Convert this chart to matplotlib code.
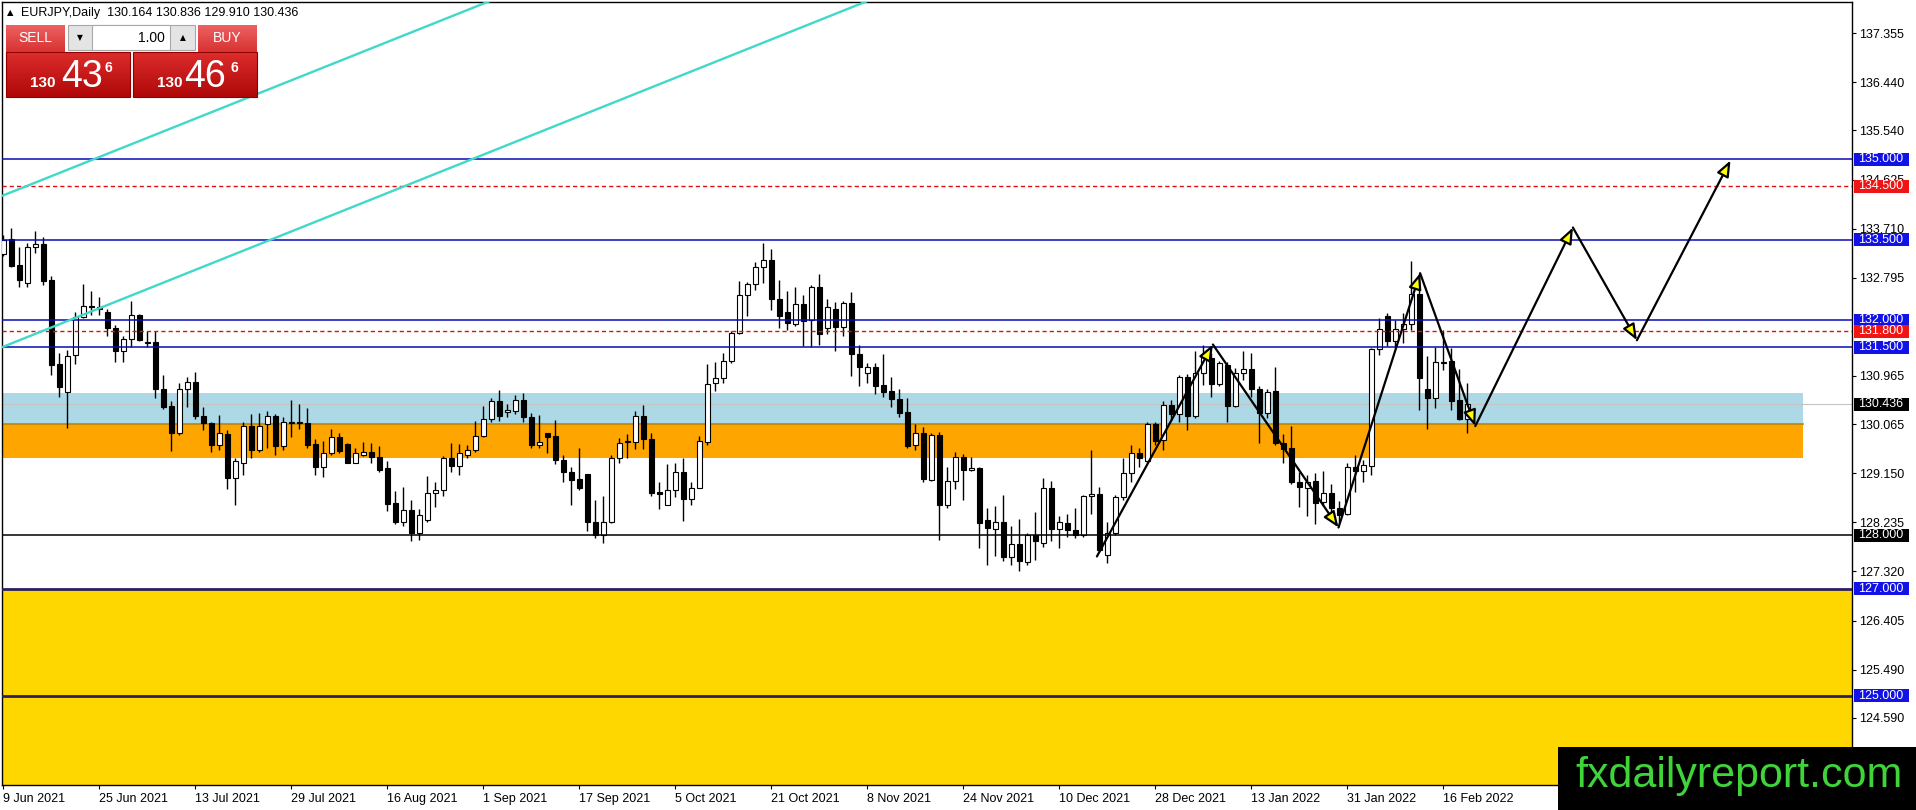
"""
EURJPY daily chart (MT4 style) with support/resistance levels,
zones, a rising channel and a projected zig-zag path.
"""
import numpy as np
import matplotlib
matplotlib.use("Agg")
import matplotlib.pyplot as plt
from matplotlib.colors import to_rgb
from matplotlib.patches import Rectangle, FancyArrowPatch

plt.rcParams["font.family"] = ["Liberation Sans", "DejaVu Sans"]

# ─── Data ─────────────────────────────────────────────────────────────────────

opens = [
    133.23, 133.51, 133.03, 132.69, 133.36, 133.42, 132.75, 131.19, 130.66, 131.35,
    132.06, 132.27, 132.24, 132.16, 131.85, 131.42, 131.66, 132.10, 131.59, 131.59,
    130.73, 130.40, 129.91, 130.72, 130.85, 130.22, 130.08, 129.68, 129.88, 129.07,
    129.35, 130.03, 129.58, 130.06, 130.22, 129.66, 130.08, 130.10, 130.08, 129.69,
    129.27, 129.52, 129.82, 129.70, 129.35, 129.50, 129.55, 129.45, 129.24, 128.59,
    128.25, 128.47, 128.04, 128.28, 128.78, 128.83, 129.43, 129.29, 129.50, 129.58,
    129.85, 130.17, 130.50, 130.29, 130.32, 130.52, 130.19, 129.67, 129.91, 129.85,
    129.40, 129.17, 129.04, 129.14, 128.24, 128.00, 128.25, 129.43, 129.73, 129.74,
    130.21, 129.78, 128.80, 128.56, 128.83, 129.18, 128.68, 128.88, 129.74, 130.83,
    130.92, 131.25, 131.76, 132.47, 132.67, 132.99, 133.12, 132.39, 132.16, 131.93,
    132.31, 132.01, 132.62, 131.86, 132.22, 131.88, 132.32, 131.37, 131.01, 131.13,
    130.80, 130.68, 130.54, 130.29, 129.67, 129.91, 129.03, 129.86, 128.56, 129.01,
    129.45, 129.21, 129.25, 128.28, 128.11, 128.24, 127.59, 127.83, 127.50, 128.00,
    127.86, 128.87, 128.11, 128.22, 128.09, 128.00, 128.72, 128.76, 127.63, 128.04,
    128.70, 129.15, 129.52, 129.37, 130.06, 129.77, 130.42, 130.25, 130.95, 130.22,
    131.01, 131.29, 130.81, 131.17, 130.41, 131.01, 131.09, 130.72, 130.28, 130.68,
    129.71, 129.62, 128.98, 128.87, 129.01, 128.62, 128.78, 128.50, 128.39, 129.26,
    129.20, 129.29, 131.46, 132.08, 131.62, 131.84, 131.93, 132.50, 130.72, 130.56,
    131.23, 131.24, 130.52, 130.164,
]
highs = [
    133.60, 133.73, 133.37, 133.44, 133.67, 133.56, 132.83, 131.40, 131.45, 132.16,
    132.67, 132.55, 132.44, 132.21, 131.91, 131.71, 132.37, 132.11, 131.81, 131.80,
    130.98, 130.49, 130.83, 130.94, 131.03, 130.39, 130.11, 130.24, 129.96, 129.43,
    130.10, 130.25, 130.28, 130.31, 130.25, 130.19, 130.52, 130.45, 130.36, 129.79,
    129.76, 129.97, 129.91, 129.71, 129.63, 129.74, 129.72, 129.66, 129.38, 128.82,
    128.89, 128.65, 128.49, 129.10, 128.98, 129.48, 129.71, 129.69, 129.68, 130.12,
    130.40, 130.56, 130.70, 130.45, 130.61, 130.64, 130.27, 130.24, 129.91, 130.14,
    129.49, 129.27, 129.63, 129.14, 128.65, 128.73, 129.50, 129.80, 129.88, 130.31,
    130.42, 129.91, 128.99, 129.33, 129.35, 129.44, 128.99, 129.85, 131.19, 131.23,
    131.40, 131.80, 132.73, 132.72, 133.08, 133.44, 133.33, 132.75, 132.55, 132.62,
    132.47, 132.66, 132.86, 132.39, 132.35, 132.36, 132.52, 131.54, 131.21, 131.20,
    131.37, 130.94, 130.72, 130.55, 130.07, 130.01, 129.91, 129.92, 129.26, 129.55,
    129.51, 129.46, 129.26, 128.51, 128.54, 128.74, 128.17, 128.30, 128.03, 128.42,
    129.06, 129.01, 128.36, 128.40, 128.50, 128.75, 129.59, 128.90, 128.25, 128.75,
    129.44, 129.68, 129.62, 130.11, 130.11, 130.50, 130.52, 130.98, 131.00, 131.42,
    131.54, 131.39, 131.24, 131.23, 131.11, 131.43, 131.39, 130.78, 130.73, 131.14,
    129.88, 130.03, 129.18, 129.12, 129.15, 129.20, 128.95, 128.64, 129.34, 129.49,
    129.40, 131.48, 132.04, 132.13, 132.01, 132.13, 133.11, 132.88, 131.34, 131.50,
    131.82, 131.48, 131.09, 130.836,
]
lows = [
    133.20, 133.00, 132.63, 132.63, 133.25, 132.65, 130.98, 130.58, 130.00, 131.18,
    132.04, 132.10, 132.10, 131.71, 131.23, 131.23, 131.51, 131.62, 131.51, 130.56,
    130.35, 129.57, 129.86, 130.39, 130.16, 129.96, 129.55, 129.58, 128.85, 128.55,
    129.11, 129.43, 129.54, 129.63, 129.50, 129.58, 129.83, 129.97, 129.62, 129.11,
    129.09, 129.49, 129.52, 129.34, 129.34, 129.47, 129.34, 129.18, 128.44, 128.20,
    128.16, 127.88, 127.90, 128.25, 128.53, 128.72, 129.18, 129.11, 129.43, 129.54,
    129.82, 130.11, 130.12, 130.19, 130.25, 130.11, 129.62, 129.63, 129.52, 129.32,
    128.99, 128.55, 128.84, 128.08, 127.94, 127.86, 128.23, 129.34, 129.43, 129.60,
    129.60, 128.72, 128.49, 128.55, 128.70, 128.27, 128.56, 128.87, 129.68, 130.68,
    130.83, 131.20, 131.74, 132.08, 132.57, 132.69, 132.19, 131.86, 131.82, 131.90,
    131.53, 131.50, 131.54, 131.74, 131.42, 131.70, 130.97, 130.78, 130.84, 130.62,
    130.58, 130.39, 130.19, 129.62, 129.59, 128.98, 129.01, 127.91, 128.50, 128.85,
    128.65, 129.20, 127.75, 127.44, 127.60, 127.52, 127.45, 127.32, 127.45, 127.54,
    127.77, 127.88, 127.75, 127.97, 127.94, 127.97, 128.40, 127.69, 127.47, 128.00,
    128.65, 128.99, 129.27, 129.34, 129.68, 129.58, 130.14, 130.11, 129.96, 130.18,
    130.80, 130.58, 130.77, 130.11, 130.38, 130.89, 130.58, 129.72, 130.18, 129.67,
    129.34, 128.95, 128.52, 128.36, 128.21, 128.54, 128.28, 128.22, 128.37, 128.81,
    128.99, 129.12, 131.36, 131.52, 131.48, 131.57, 131.82, 130.33, 129.98, 130.37,
    131.08, 130.33, 130.14, 129.910,
]
closes = [
    133.50, 133.02, 132.76, 133.36, 133.42, 132.74, 131.17, 130.75, 131.34, 132.06,
    132.26, 132.24, 132.22, 131.85, 131.42, 131.66, 132.10, 131.63, 131.57, 130.73,
    130.39, 129.91, 130.72, 130.85, 130.21, 130.08, 129.67, 129.90, 129.07, 129.37,
    130.03, 129.58, 130.04, 130.21, 129.65, 130.10, 130.10, 130.08, 129.68, 129.27,
    129.52, 129.82, 129.57, 129.35, 129.52, 129.55, 129.45, 129.21, 128.58, 128.25,
    128.47, 128.04, 128.37, 128.78, 128.84, 129.43, 129.29, 129.52, 129.58, 129.85,
    130.17, 130.50, 130.22, 130.33, 130.52, 130.19, 129.67, 129.74, 129.83, 129.39,
    129.17, 129.03, 128.87, 128.24, 128.00, 128.25, 129.43, 129.72, 129.75, 130.21,
    129.78, 128.79, 128.76, 128.83, 129.18, 128.68, 128.88, 129.76, 130.82, 130.92,
    131.25, 131.76, 132.47, 132.67, 132.99, 133.12, 132.39, 132.09, 131.95, 132.31,
    131.99, 132.62, 131.75, 132.24, 131.88, 132.32, 131.37, 131.13, 131.13, 130.78,
    130.67, 130.53, 130.28, 129.66, 129.91, 129.04, 129.86, 128.55, 129.00, 129.45,
    129.21, 129.25, 128.23, 128.13, 128.24, 127.59, 127.83, 127.52, 128.00, 127.88,
    128.87, 128.11, 128.24, 128.09, 128.00, 128.72, 128.77, 127.72, 128.04, 128.70,
    129.15, 129.52, 129.43, 130.06, 129.76, 130.42, 130.25, 130.95, 130.22, 131.01,
    131.34, 130.82, 131.21, 130.41, 131.01, 131.09, 130.72, 130.28, 130.66, 129.71,
    129.60, 128.98, 128.89, 128.99, 128.60, 128.78, 128.50, 128.37, 129.26, 129.20,
    129.30, 131.46, 131.83, 131.62, 131.84, 131.93, 132.50, 130.93, 130.56, 131.22,
    131.21, 130.50, 130.16, 130.436,
]

date_labels = [
    "9 Jun 2021", "25 Jun 2021", "13 Jul 2021", "29 Jul 2021", "16 Aug 2021",
    "1 Sep 2021", "17 Sep 2021", "5 Oct 2021", "21 Oct 2021", "8 Nov 2021",
    "24 Nov 2021", "10 Dec 2021", "28 Dec 2021", "13 Jan 2022", "31 Jan 2022",
    "16 Feb 2022",
]
bars_per_label = 12

# 131.880 sits under the level tags in the original, so it is left out
price_ticks = [137.355, 136.440, 135.540, 134.625, 133.710, 132.795,
               130.965, 130.065, 129.150, 128.235, 127.320, 126.405, 125.490, 124.590]

# horizontal levels
blue_levels = [135.0, 133.5, 132.0, 131.5]
red_levels = [134.5, 131.8]
black_level = 128.0
navy_levels = [127.0, 125.0]
last_price = 130.436

# zones (price ranges) and where the drawn boxes end (bar index)
blue_zone = (130.065, 130.64)
orange_zone = (129.44, 130.065)
yellow_zone_top = 127.0
zone_end = 224.9

# rising channel (bar index, price)
chan_low_x, chan_low_y = [-1, 110], [131.45, 138.07]
chan_up_x, chan_up_y = [-1, 65], [134.27, 138.20]

# zig-zag path incl. projection (bar index, price)
zz_x = [136.7, 151.2, 166.9, 177.1, 184.0, 196.2, 204.2, 215.9]
zz_y = [127.60, 131.55, 128.14, 132.88, 130.03, 133.73, 131.63, 134.98]

# price tags on the right scale
tag_prices = [135.0, 134.5, 133.5, 132.0, 131.8, 131.5, 130.436, 128.0, 127.0, 125.0]
tag_kinds = ["level", "target", "level", "level", "target", "level",
             "price", "price", "level", "level"]

header = "EURJPY,Daily  130.164 130.836 129.910 130.436"

# ─── Style ────────────────────────────────────────────────────────────────────

W, H = 1916, 810
TAG_COLORS = {"level": "#1212e6", "target": "#f01414", "price": "#000000"}
FS = 9


def grad_box(ax, x0, y0, x1, y1, c_top, c_bot, edge=None):
    top = np.array(to_rgb(c_top))
    bot = np.array(to_rgb(c_bot))
    t = np.linspace(0, 1, 32)[:, None, None]
    ax.imshow(top * (1 - t) + bot * t, extent=(x0, x1, y1, y0),
              aspect="auto", interpolation="bilinear", zorder=1)
    if edge:
        ax.add_patch(Rectangle((x0, y0), x1 - x0, y1 - y0, fill=False,
                               ec=edge, lw=0.8, zorder=2))


fig = plt.figure(figsize=(W / 100, H / 100), dpi=100, facecolor="white")
ax_l, ax_r, ax_t, ax_b = 2.3, 1851.5, 2.0, 785.0
ax = fig.add_axes([ax_l / W, (H - ax_b) / H, (ax_r - ax_l) / W, (ax_b - ax_t) / H])

n = len(opens)
idx = np.arange(n)
o, h, l, c = map(np.asarray, (opens, highs, lows, closes))

# zones
ax.axhspan(122.0, yellow_zone_top, color="#ffd700", zorder=0.5, lw=0)
ax.add_patch(Rectangle((-1, blue_zone[0]), zone_end + 1, blue_zone[1] - blue_zone[0],
                       fc="#add8e6", ec="none", zorder=0.6))
ax.add_patch(Rectangle((-1, orange_zone[0]), zone_end + 1, orange_zone[1] - orange_zone[0],
                       fc="#ffa500", ec="none", zorder=0.6))
ax.plot([-1, zone_end], [orange_zone[1]] * 2, color="#b8860b", lw=1.2, zorder=0.7)

# current price line
ax.axhline(last_price, color="#c4c4c4", lw=0.8, zorder=0.8)

# candles
ax.vlines(idx, l, h, color="black", lw=1.0, zorder=3)
body_lo = np.minimum(o, c)
body_h = np.maximum(np.abs(c - o), 0.012)
fills = np.where(c >= o, "white", "black")
ax.bar(idx, body_h, bottom=body_lo, width=0.6, color=fills,
       edgecolor="black", lw=0.8, zorder=3.1)

# level lines
for p in blue_levels:
    ax.axhline(p, color="#0a0ab4", lw=1.1, zorder=4)
for p in red_levels:
    ax.axhline(p, color="#e01010", lw=1.0, dashes=(3, 2.2), zorder=4)
ax.axhline(black_level, color="black", lw=1.1, zorder=4)
for p in navy_levels:
    ax.axhline(p, color="#2a2060", lw=2.0, zorder=4)

# channel
ax.plot(chan_low_x, chan_low_y, color="#40d8c8", lw=1.7, zorder=4.5)
ax.plot(chan_up_x, chan_up_y, color="#40d8c8", lw=1.7, zorder=4.5)

# zig-zag with arrow heads
for x0, y0, x1, y1 in zip(zz_x[:-1], zz_y[:-1], zz_x[1:], zz_y[1:]):
    ax.add_patch(FancyArrowPatch(
        (x0, y0), (x1, y1), arrowstyle="-|>,head_length=0.8,head_width=0.32",
        mutation_scale=12, lw=1.6, ec="black", fc="#ffff00",
        shrinkA=0, shrinkB=0, zorder=6))

# axes
ax.set_xlim(-0.125, -0.125 + (ax_r - ax_l) / 8.0)
ax.set_ylim(137.933 - (ax_b - ax_t) / 53.66, 137.933)
ax.set_xticks(np.arange(len(date_labels)) * bars_per_label)
ax.set_xticklabels(date_labels, fontsize=FS)
for t in ax.get_xticklabels():
    t.set_ha("left")
ax.yaxis.tick_right()
ax.set_yticks(price_ticks)
ax.set_yticklabels([f"{v:.3f}" for v in price_ticks], fontsize=FS)
ax.tick_params(axis="x", length=3, width=0.8, pad=2.5)
ax.tick_params(axis="y", length=3, width=0.8, pad=2.5)
for s in ax.spines.values():
    s.set_linewidth(1.0)
    s.set_color("black")

# price tags on the right scale
tag_tr = ax.get_yaxis_transform()
tag_w = 55 / (ax_r - ax_l)
tag_h = 13 / 53.66
for p, kind in zip(tag_prices, tag_kinds):
    ax.add_patch(Rectangle((1 + 2 / (ax_r - ax_l), p - tag_h / 2), tag_w, tag_h,
                           transform=tag_tr, fc=TAG_COLORS[kind], ec="none",
                           clip_on=False, zorder=20))
    ax.text(1 + 7 / (ax_r - ax_l), p, f"{p:.3f}", transform=tag_tr, color="white",
            fontsize=FS, ha="left", va="center", clip_on=False, zorder=21)

# ─── Overlay: header, trade panel, watermark (pixel coords) ──────────────────
ov = fig.add_axes([0, 0, 1, 1], zorder=10)
ov.set_autoscale_on(False)
ov.set_xlim(0, W)
ov.set_ylim(H, 0)
ov.axis("off")

ov.text(7, 13, "▲", fontsize=6, ha="left", va="center", family=["DejaVu Sans"])
ov.text(21, 13, header, fontsize=FS, ha="left", va="center")

# buttons
grad_box(ov, 6, 25, 65, 52, "#ec6262", "#d83232")
grad_box(ov, 198, 25, 257, 52, "#ec6262", "#d83232")
ov.text(35.5, 38.5, "SELL", color="white", fontsize=10, ha="center", va="center")
ov.text(227.5, 38.5, "BUY", color="white", fontsize=10, ha="center", va="center")
ov.plot([10, 62], [51.5, 51.5], color="#f4a0a0", lw=0.8)
ov.plot([201, 254], [51.5, 51.5], color="#f4a0a0", lw=0.8)

# lot box
ov.add_patch(Rectangle((68, 25), 127, 25, fc="#e4e4e4", ec="#a8a8a8", lw=0.8))
ov.add_patch(Rectangle((92, 25), 78, 25, fc="white", ec="#a8a8a8", lw=0.8))
ov.text(80, 37.5, "▼", fontsize=5.5, ha="center", va="center", family=["DejaVu Sans"])
ov.text(182.5, 37.5, "▲", fontsize=5.5, ha="center", va="center", family=["DejaVu Sans"])
ov.text(165, 37.5, "1.00", fontsize=10, ha="right", va="center")

# price boxes
grad_box(ov, 6, 52, 130, 97, "#dc2c2c", "#b00808", edge="#900000")
grad_box(ov, 133, 52, 257, 97, "#dc2c2c", "#b00808", edge="#900000")
for x_small, x_big, x_sup, big in [(30, 61, 105, "43"), (157, 184, 231, "46")]:
    ov.text(x_small, 87, "130", color="white", fontsize=11, fontweight="bold",
            ha="left", va="baseline")
    ov.text(x_big, 87, big, color="white", fontsize=27, ha="left", va="baseline")
    ov.text(x_sup, 72, "6", color="white", fontsize=10, fontweight="bold",
            ha="left", va="baseline")

# watermark
ov.add_patch(Rectangle((1558, 747), W - 1558, H - 747, fc="black", ec="none"))
ov.text(1575, 787, "fxdailyreport.com", color="#3ed43a", fontsize=31,
        ha="left", va="baseline")

fig.savefig("out.png", dpi=100, facecolor="white")
